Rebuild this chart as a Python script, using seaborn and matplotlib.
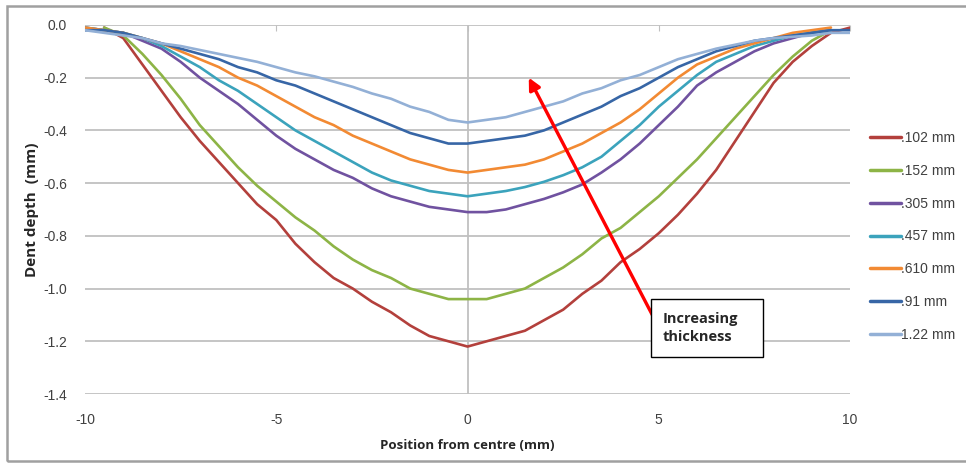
import numpy as np
import pandas as pd
import seaborn as sns
import matplotlib.pyplot as plt

# --- data (every 0.5 mm) ---
position = [-10, -9.5, -9, -8.5, -8, -7.5, -7, -6.5, -6, -5.5, -5, -4.5, -4, -3.5, -3, -2.5, -2, -1.5, -1, -0.5,
            0, 0.5, 1, 1.5, 2, 2.5, 3, 3.5, 4, 4.5, 5, 5.5, 6, 6.5, 7, 7.5, 8, 8.5, 9, 9.5, 10]

depth_102 = [np.nan, -0.01, -0.05, -0.15, -0.25, -0.35, -0.44, -0.52, -0.60, -0.68, -0.74, -0.83, -0.90, -0.96,
             -1.00, -1.05, -1.09, -1.14, -1.18, -1.20,
             -1.22, -1.20, -1.18, -1.16, -1.12, -1.08, -1.02, -0.97, -0.90, -0.85, -0.79, -0.72, -0.64, -0.55,
             -0.44, -0.33, -0.22, -0.14, -0.08, -0.03, -0.01]
depth_152 = [np.nan, -0.01, -0.04, -0.11, -0.19, -0.28, -0.38, -0.46, -0.54, -0.61, -0.67, -0.73, -0.78, -0.84,
             -0.89, -0.93, -0.96, -1.00, -1.02, -1.04,
             -1.04, -1.04, -1.02, -1.00, -0.96, -0.92, -0.87, -0.81, -0.77, -0.71, -0.65, -0.58, -0.51, -0.43,
             -0.35, -0.27, -0.19, -0.12, -0.06, -0.02, np.nan]
depth_305 = [-0.01, -0.02, -0.03, -0.06, -0.09, -0.14, -0.20, -0.25, -0.30, -0.36, -0.42, -0.47, -0.51, -0.55,
             -0.58, -0.62, -0.65, -0.67, -0.69, -0.70,
             -0.71, -0.71, -0.70, -0.68, -0.66, -0.635, -0.605, -0.56, -0.51, -0.45, -0.38, -0.31, -0.23, -0.18,
             -0.14, -0.10, -0.07, -0.05, -0.03, -0.02, np.nan]
depth_457 = [-0.01, -0.02, -0.03, -0.05, -0.08, -0.12, -0.16, -0.21, -0.25, -0.30, -0.35, -0.40, -0.44, -0.48,
             -0.52, -0.56, -0.59, -0.61, -0.63, -0.64,
             -0.65, -0.64, -0.63, -0.615, -0.595, -0.57, -0.54, -0.50, -0.44, -0.38, -0.31, -0.25, -0.19, -0.14,
             -0.11, -0.08, -0.06, -0.04, -0.03, -0.02, np.nan]
depth_610 = [-0.01, -0.02, -0.03, -0.05, -0.07, -0.10, -0.13, -0.16, -0.20, -0.23, -0.27, -0.31, -0.35, -0.38,
             -0.42, -0.45, -0.48, -0.51, -0.53, -0.55,
             -0.56, -0.55, -0.54, -0.53, -0.51, -0.48, -0.45, -0.41, -0.37, -0.32, -0.26, -0.20, -0.15, -0.12,
             -0.09, -0.07, -0.05, -0.03, -0.02, -0.01, np.nan]
depth_91 = [-0.02, -0.02, -0.03, -0.05, -0.07, -0.09, -0.11, -0.13, -0.16, -0.18, -0.21, -0.23, -0.26, -0.29,
            -0.32, -0.35, -0.38, -0.41, -0.43, -0.45,
            -0.45, -0.44, -0.43, -0.42, -0.40, -0.37, -0.34, -0.31, -0.27, -0.24, -0.20, -0.16, -0.13, -0.10,
            -0.08, -0.06, -0.05, -0.04, -0.03, -0.02, -0.02]
depth_122 = [-0.02, -0.03, -0.04, -0.05, -0.07, -0.08, -0.095, -0.11, -0.125, -0.14, -0.16, -0.18, -0.195, -0.215,
             -0.235, -0.26, -0.28, -0.31, -0.33, -0.36,
             -0.37, -0.36, -0.35, -0.33, -0.31, -0.29, -0.26, -0.24, -0.21, -0.19, -0.16, -0.13, -0.11, -0.09,
             -0.075, -0.06, -0.05, -0.045, -0.04, -0.03, -0.03]

labels = [".102 mm", ".152 mm", ".305 mm", ".457 mm", ".610 mm", ".91 mm", "1.22 mm"]
series = [depth_102, depth_152, depth_305, depth_457, depth_610, depth_91, depth_122]
colors = ["#B3403C", "#8DB446", "#7052A0", "#3BA3BC", "#F28A33", "#3766A6", "#93B0D6"]

y_ticks = [0.0, -0.2, -0.4, -0.6, -0.8, -1.0, -1.2, -1.4]
x_ticks = [-10, -5, 0, 5, 10]

# long format for seaborn
frames = []
for lab, vals in zip(labels, series):
    frames.append(pd.DataFrame({"Position": position, "Depth": vals, "Thickness": lab}))
df = pd.concat(frames, ignore_index=True).dropna()

sns.set_style("white")
plt.rcParams['font.family'] = ['Liberation Sans', 'DejaVu Sans']
bold_font = ['Open Sans', 'DejaVu Sans']

fig = plt.figure(figsize=(9.66, 4.66), dpi=100)
ax = fig.add_axes([0.088, 0.1545, 0.792, 0.792])

# gridlines first so curves sit on top
for yv in y_ticks:
    ax.axhline(yv, color="#C0C0C0", lw=1.3, zorder=0)
ax.axvline(0, color="#C0C0C0", lw=1.3, zorder=0)

sns.lineplot(data=df, x="Position", y="Depth", hue="Thickness",
             palette=colors, hue_order=labels, lw=1.9, ax=ax, legend=True)

ax.set_xlim(-10, 10)
ax.set_ylim(-1.4, 0.0)
ax.set_xticks(x_ticks)
ax.set_yticks(y_ticks)
ax.set_xticklabels([str(v) for v in x_ticks], fontsize=10, color="#404040")
ax.set_yticklabels([f"{v:.1f}" for v in y_ticks], fontsize=10, color="#404040")
ax.tick_params(axis="x", bottom=False, top=True, direction="in", length=4,
               color="#C0C0C0", labelbottom=True, labeltop=False, pad=14)
ax.tick_params(axis="y", left=False, pad=9.5)
for sp in ax.spines.values():
    sp.set_visible(False)

ax.set_xlabel("Position from centre (mm)", fontsize=9.5, fontweight="bold",
              family=bold_font, labelpad=8)
ax.set_ylabel("Dent depth  (mm)", fontsize=11, fontweight="bold",
              family=bold_font, labelpad=3)

leg = ax.legend(loc="upper left", bbox_to_anchor=(1.026, 0.712), frameon=False,
                fontsize=10, handlelength=2.2, handletextpad=0.05,
                labelspacing=1.35, borderaxespad=0.0, borderpad=0.0)
for line in leg.get_lines():
    line.set_linewidth(2.5)
for txt in leg.get_texts():
    txt.set_color("#404040")

# annotation arrow and box
ax.annotate("", xy=(1.60, -0.20), xytext=(4.83, -1.10),
            arrowprops=dict(arrowstyle="-|>,head_length=0.7,head_width=0.35",
                            color="#FF0000", lw=2.4, shrinkA=0, shrinkB=0), zorder=5)
ax.add_patch(plt.Rectangle((4.80, -1.26), 2.93, 0.219, fc="white", ec="black", lw=1.0, zorder=6))
ax.text(5.09, -1.15, "Increasing\nthickness", fontsize=10.5, fontweight="bold",
        family=bold_font, va="center", ha="left", linespacing=1.4, zorder=7)

# outer frame of the picture
fig.patches.append(plt.Rectangle((0.0075, 0.011), 1.1, 0.976, transform=fig.transFigure,
                                 fill=False, ec="#A0A0A0", lw=1.8))

plt.savefig("out.png", dpi=100)
